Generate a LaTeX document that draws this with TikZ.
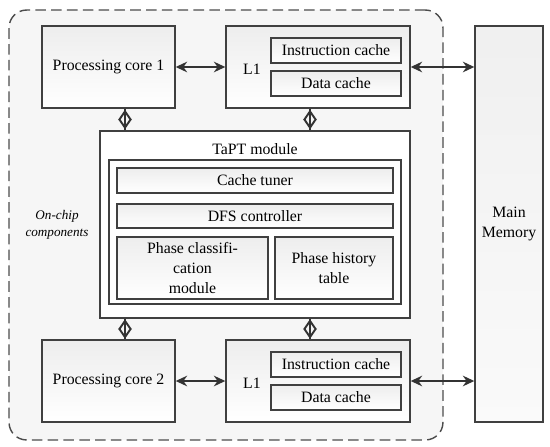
\documentclass[tikz,border=0pt]{standalone}
\usepackage{fontspec}
\setmainfont{Liberation Serif}
\usetikzlibrary{arrows.meta,shapes.geometric}

\begin{document}
\begin{tikzpicture}[x=0.02cm,y=-0.02cm,>={Stealth[length=6.5pt,width=6pt]},
 font=\fontsize{9}{11.3}\selectfont,
 blk/.style={draw=black!75,line width=0.8pt,top color=gray!14,bottom color=white,inner sep=0pt,align=center},
 plain/.style={draw=black!75,line width=0.8pt,fill=white,inner sep=0pt},
 chip/.style={draw=black!70,line width=0.8pt,dashed,dash pattern=on 6pt off 3pt,rounded corners=10pt,fill=gray!7,inner sep=0pt},
 lnk/.style={<->,line width=1.1pt,black!80},
 dlnk/.style={line width=1.1pt,black!80},
 dmd/.style={diamond,draw=black!80,line width=1.1pt,inner sep=0pt,minimum width=0.24cm,minimum height=0.34cm}]
\useasboundingbox (0,0) rectangle (550,446);
% on-chip region
\node[chip,minimum width=8.68cm,minimum height=8.6cm] (onchip) at (226,225) {};
\node[font=\fontsize{7.5}{9.6}\selectfont\itshape,align=center] (lbl) at (57,225) {On-chip\\components};
% cores and L1 caches
\node[blk,minimum width=2.66cm,minimum height=1.64cm] (core1) at (108.5,67) {Processing core 1};
\node[blk,minimum width=2.66cm,minimum height=1.64cm] (core2) at (108.5,381) {Processing core 2};
\node[blk,minimum width=3.68cm,minimum height=1.64cm] (l1a) at (318,67) {};
\node[blk,minimum width=3.68cm,minimum height=1.64cm] (l1b) at (318,381) {};
\node (l1alab) at (252,69) {L1};
\node (l1blab) at (252,383) {L1};
\node[blk,minimum width=2.6cm,minimum height=0.5cm] (ica) at (336,50.5) {Instruction cache};
\node[blk,minimum width=2.6cm,minimum height=0.5cm] (dca) at (336,83.5) {Data cache};
\node[blk,minimum width=2.6cm,minimum height=0.5cm] (icb) at (336,364.5) {Instruction cache};
\node[blk,minimum width=2.6cm,minimum height=0.5cm] (dcb) at (336,397.5) {Data cache};
% main memory
\node[blk,top color=gray!12,bottom color=gray!4,minimum width=1.36cm,minimum height=7.92cm] (mem) at (509,224) {Main\\Memory};
% TaPT module
\node[plain,minimum width=6.2cm,minimum height=3.74cm] (tapt) at (255,224.5) {};
\node (taptlab) at (255,149) {TaPT module};
\node[plain,minimum width=5.84cm,minimum height=2.88cm] (inner) at (255,232) {};
\node[blk,minimum width=5.52cm,minimum height=0.5cm] (tuner) at (255,180.5) {Cache tuner};
\node[blk,minimum width=5.52cm,minimum height=0.48cm] (dfs) at (255,216) {DFS controller};
\node[blk,minimum width=3.02cm,minimum height=1.24cm] (pcm) at (192.5,268) {Phase classifi-\\cation\\module};
\node[blk,minimum width=2.36cm,minimum height=1.24cm] (pht) at (334,268) {Phase history\\table};
% links
\draw[lnk] (core1) -- (l1a);
\draw[lnk] (core2) -- (l1b);
\draw[lnk] (l1a.east) -- (l1a.east -| mem.west);
\draw[lnk] (l1b.east) -- (l1b.east -| mem.west);
\foreach \a/\b/\x in {core1/tapt/125,l1a/tapt/310,tapt/core2/125,tapt/l1b/310}
  \draw[dlnk] (\a.south -| \x,0) -- (\b.north -| \x,0)
    node[dmd,midway] {};
\end{tikzpicture}
\end{document}
